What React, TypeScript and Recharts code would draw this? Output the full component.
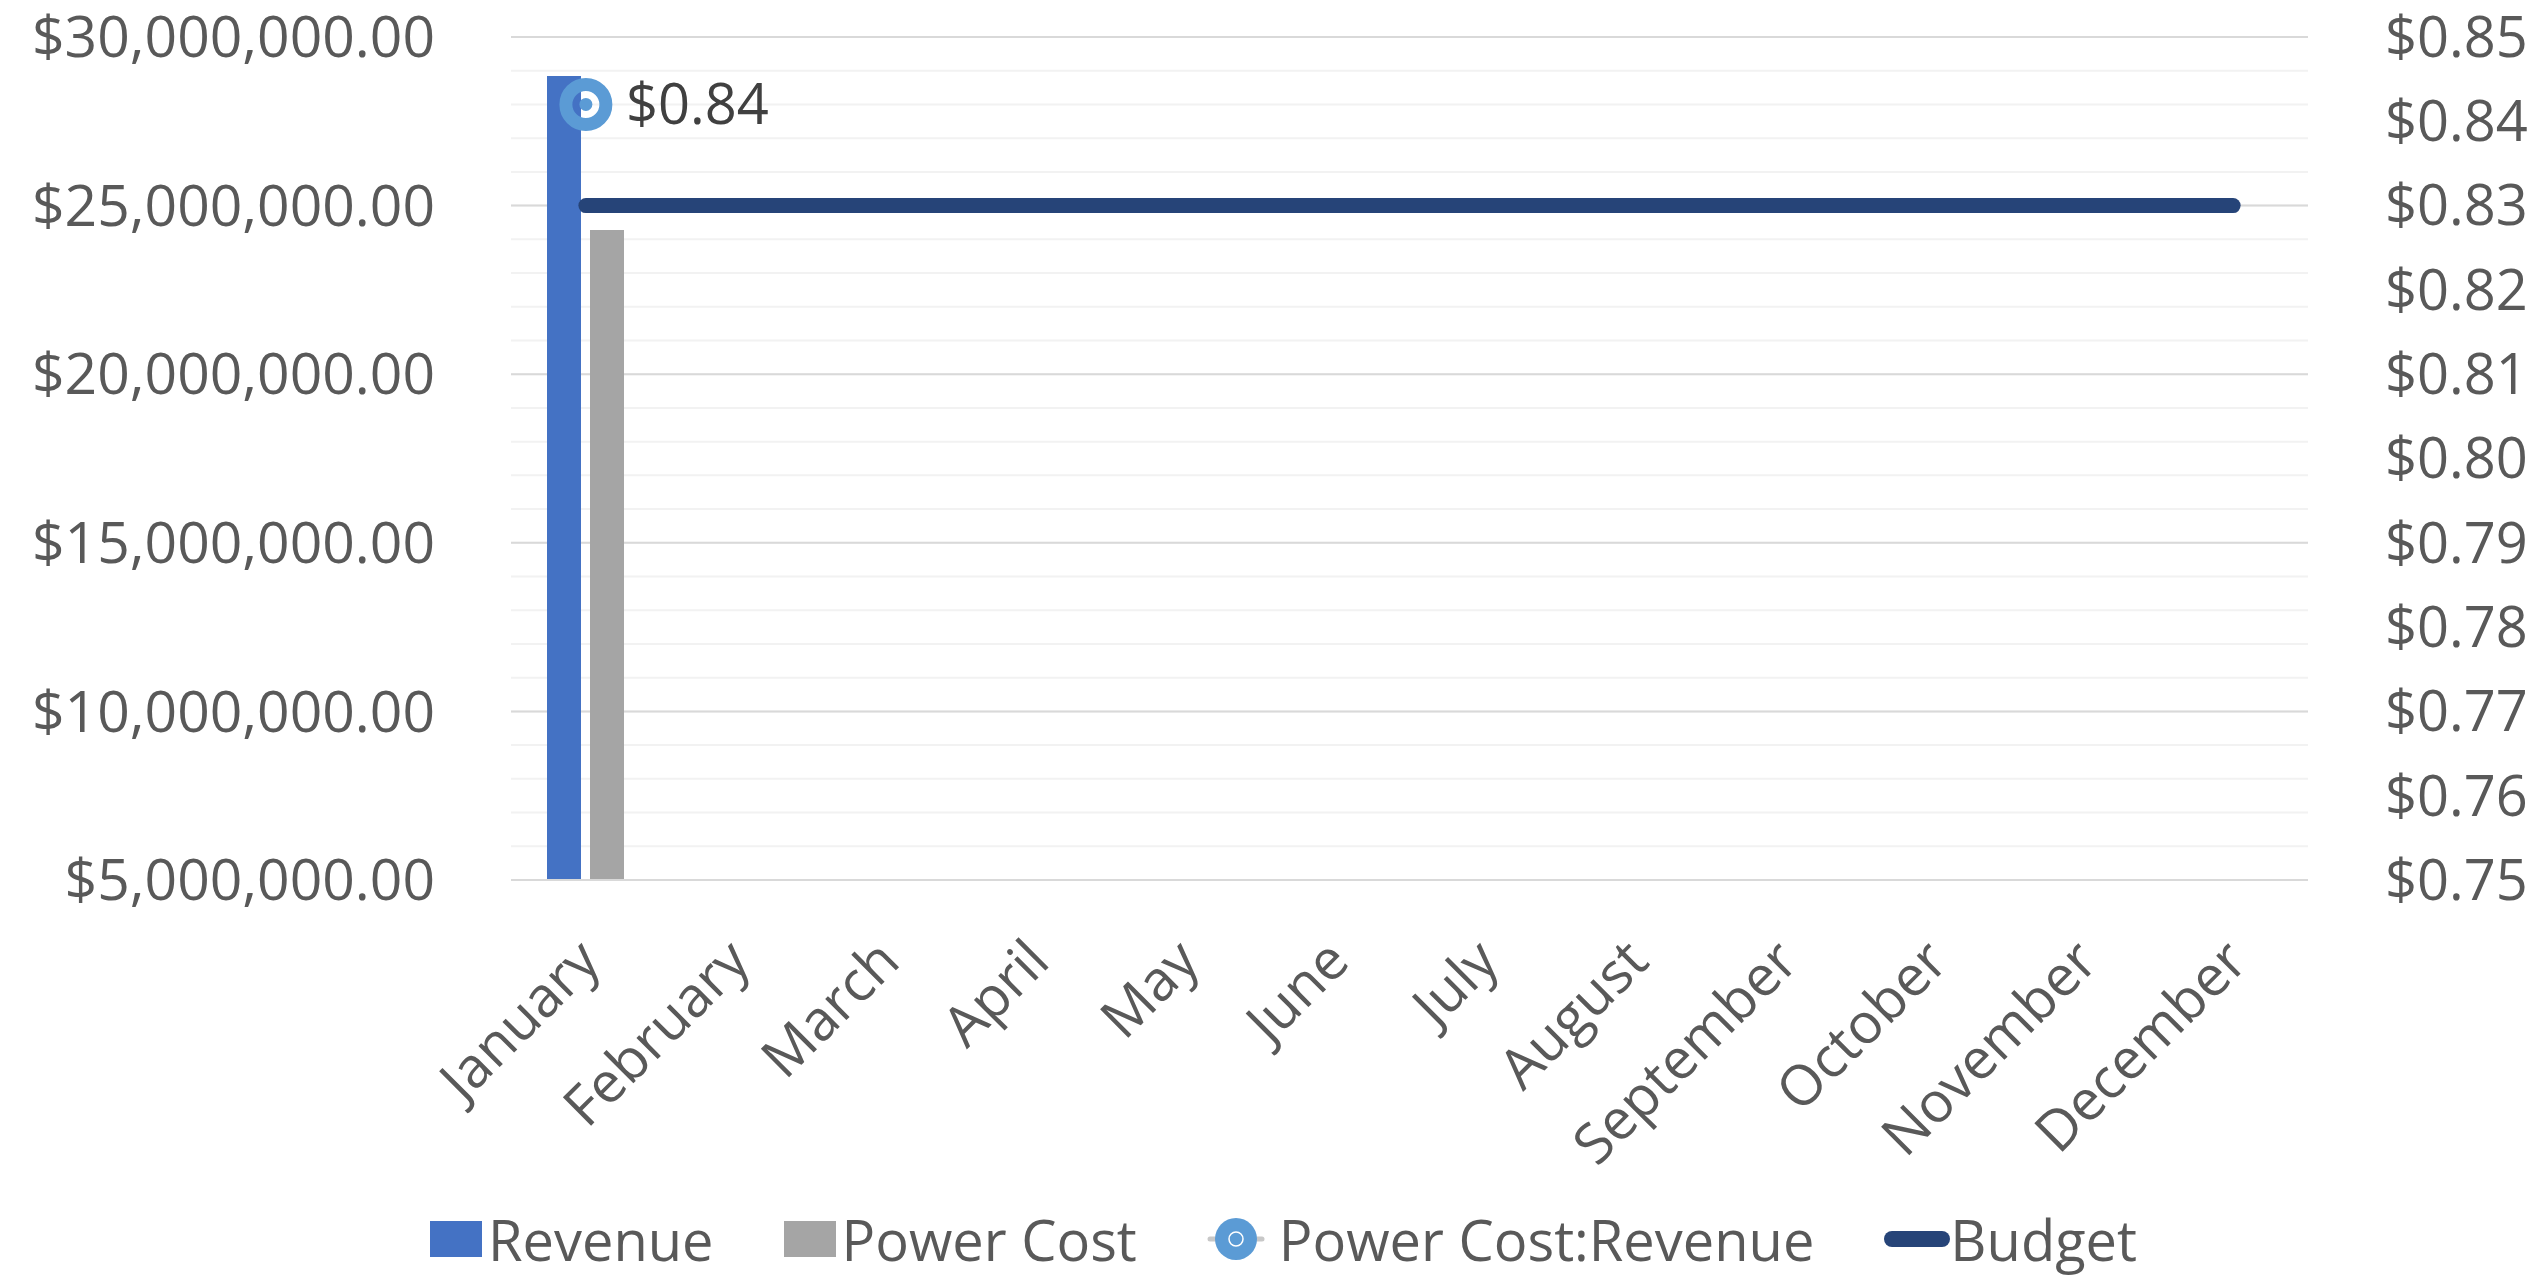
import React from 'react';
import {
    ComposedChart,
    Bar,
    Line,
    XAxis,
    YAxis,
    CartesianGrid,
    Legend,
    LabelList,
} from 'recharts';

const months = [
    'January', 'February', 'March', 'April', 'May', 'June',
    'July', 'August', 'September', 'October', 'November', 'December',
];
const revenue = [28840000, null, null, null, null, null, null, null, null, null, null, null];
const powerCost = [24280000, null, null, null, null, null, null, null, null, null, null, null];
const costRatio = [0.842, null, null, null, null, null, null, null, null, null, null, null];
const budget = [0.83, 0.83, 0.83, 0.83, 0.83, 0.83, 0.83, 0.83, 0.83, 0.83, 0.83, 0.83];

const leftTicks = [5000000, 10000000, 15000000, 20000000, 25000000, 30000000];
const minorTicks = [
    5000000, 6000000, 7000000, 8000000, 9000000, 10000000, 11000000, 12000000, 13000000,
    14000000, 15000000, 16000000, 17000000, 18000000, 19000000, 20000000, 21000000,
    22000000, 23000000, 24000000, 25000000, 26000000, 27000000, 28000000, 29000000, 30000000,
];
const rightTicks = [0.75, 0.76, 0.77, 0.78, 0.79, 0.8, 0.81, 0.82, 0.83, 0.84, 0.85];

const data = months.map((month, i) => ({
    month,
    revenue: revenue[i],
    powerCost: powerCost[i],
    costRatio: costRatio[i],
    budget: budget[i],
}));

const TEXT = '#595959';
const FONT = 56;

const money = (v: number) =>
    '$' + v.toLocaleString('en-US', { minimumFractionDigits: 2, maximumFractionDigits: 2 });

// rotated month label, end of text sits a bit right of the tick
const MonthTick = (props: any) => {
    const { x, y, payload } = props;
    const ax = x + 17;
    const ay = y + 84;
    return (
        <text
            x={ax}
            y={ay}
            transform={`rotate(-45, ${ax}, ${ay})`}
            textAnchor="end"
            fill={TEXT}
            fontSize={FONT}
        >
            {payload.value}
        </text>
    );
};

// ring marker with a dot in the middle (transparent between)
const RingDot = (props: any) => {
    const { cx, cy, value, index } = props;
    if (value == null || cy == null) return <g key={index} />;
    return (
        <g key={index}>
            <circle cx={cx} cy={cy} r={20} fill="none" stroke="#5B9BD5" strokeWidth={13} />
            <circle cx={cx} cy={cy} r={6.5} fill="#5B9BD5" />
        </g>
    );
};

const legendItems = [
    { name: 'Revenue', kind: 'bar', color: '#4472C4' },
    { name: 'Power Cost', kind: 'bar', color: '#A5A5A5' },
    { name: 'Power Cost:Revenue', kind: 'marker', color: '#5B9BD5' },
    { name: 'Budget', kind: 'line', color: '#264478' },
];

const iconStyle = { flexShrink: 0, display: 'block' } as const;

const LegendIcon = ({ kind, color }: { kind: string; color: string }) => {
    if (kind === 'bar') {
        return (
            <svg width={52} height={36} style={{ ...iconStyle, marginRight: 6 }}>
                <rect x={0} y={0} width={52} height={36} fill={color} />
            </svg>
        );
    }
    if (kind === 'marker') {
        return (
            <svg width={58} height={44} style={{ ...iconStyle, marginRight: 14 }}>
                <line x1={3} y1={22} x2={55} y2={22} stroke="#C8C8C8" strokeWidth={5} strokeLinecap="round" />
                <circle cx={29} cy={22} r={21} fill={color} />
                <circle cx={29} cy={22} r={7} fill="none" stroke="#fff" strokeWidth={1.5} />
            </svg>
        );
    }
    return (
        <svg width={66} height={18} style={{ ...iconStyle, marginRight: 0 }}>
            <line x1={8} y1={9} x2={58} y2={9} stroke={color} strokeWidth={16} strokeLinecap="round" />
        </svg>
    );
};

const renderLegend = () => (
    <div style={{ display: 'flex', alignItems: 'center', marginLeft: 430, height: 60 }}>
        {legendItems.map((item) => (
            <div
                key={item.name}
                style={{ display: 'flex', alignItems: 'center', marginRight: 70, flexShrink: 0 }}
            >
                <LegendIcon kind={item.kind} color={item.color} />
                <span style={{ fontSize: FONT, color: TEXT, lineHeight: '60px', whiteSpace: 'nowrap' }}>
                    {item.name}
                </span>
            </div>
        ))}
    </div>
);

export default function App() {
    return (
        <div
            style={{
                position: 'absolute',
                left: 0,
                top: 0,
                width: 2542,
                height: 1275,
                background: '#fff',
                fontFamily: '"Open Sans", "Noto Sans", sans-serif',
            }}
        >
            <ComposedChart
                width={2542}
                height={1275}
                data={data}
                margin={{ top: 37, right: 0, bottom: 0, left: 0 }}
                barGap={9}
            >
                <CartesianGrid yAxisId="minor" vertical={false} stroke="#F2F2F2" strokeWidth={2} />
                <CartesianGrid yAxisId="left" vertical={false} stroke="#D9D9D9" strokeWidth={2} />
                <XAxis
                    dataKey="month"
                    height={395}
                    interval={0}
                    tickLine={false}
                    tickSize={0}
                    tickMargin={0}
                    axisLine={{ stroke: '#D9D9D9', strokeWidth: 2 }}
                    tick={<MonthTick />}
                />
                <YAxis
                    yAxisId="minor"
                    hide
                    domain={[5000000, 30000000]}
                    ticks={minorTicks}
                    allowDataOverflow
                />
                <YAxis
                    yAxisId="left"
                    width={511}
                    domain={[5000000, 30000000]}
                    ticks={leftTicks}
                    allowDataOverflow
                    axisLine={false}
                    tickLine={false}
                    tickSize={0}
                    tickMargin={76}
                    tickFormatter={money}
                    tick={{ fill: TEXT, fontSize: 57 }}
                />
                <YAxis
                    yAxisId="right"
                    orientation="right"
                    width={234}
                    domain={[0.75, 0.85]}
                    ticks={rightTicks}
                    allowDataOverflow
                    axisLine={false}
                    tickLine={false}
                    tickSize={0}
                    tickMargin={77}
                    tickFormatter={(v: number) => '$' + v.toFixed(2)}
                    tick={{ fill: TEXT, fontSize: FONT }}
                />
                <Legend
                    layout="horizontal"
                    align="center"
                    verticalAlign="middle"
                    content={renderLegend}
                    wrapperStyle={{ top: 1209, left: 0, width: 2542, margin: 0 }}
                />
                <Bar
                    yAxisId="left"
                    dataKey="revenue"
                    name="Revenue"
                    fill="#4472C4"
                    barSize={34}
                    isAnimationActive={false}
                />
                <Bar
                    yAxisId="left"
                    dataKey="powerCost"
                    name="Power Cost"
                    fill="#A5A5A5"
                    barSize={34}
                    isAnimationActive={false}
                />
                <Line
                    yAxisId="right"
                    dataKey="budget"
                    name="Budget"
                    stroke="#264478"
                    strokeWidth={15}
                    strokeLinecap="round"
                    dot={false}
                    activeDot={false}
                    isAnimationActive={false}
                />
                <Line
                    yAxisId="right"
                    dataKey="costRatio"
                    name="Power Cost:Revenue"
                    stroke="#C8C8C8"
                    strokeWidth={5}
                    dot={<RingDot />}
                    activeDot={false}
                    isAnimationActive={false}
                >
                    <LabelList
                        dataKey="costRatio"
                        position="right"
                        offset={40}
                        fill="#404040"
                        fontSize={FONT}
                        formatter={(v: any) => (v == null ? '' : '$' + Number(v).toFixed(2))}
                    />
                </Line>
            </ComposedChart>
        </div>
    );
}
